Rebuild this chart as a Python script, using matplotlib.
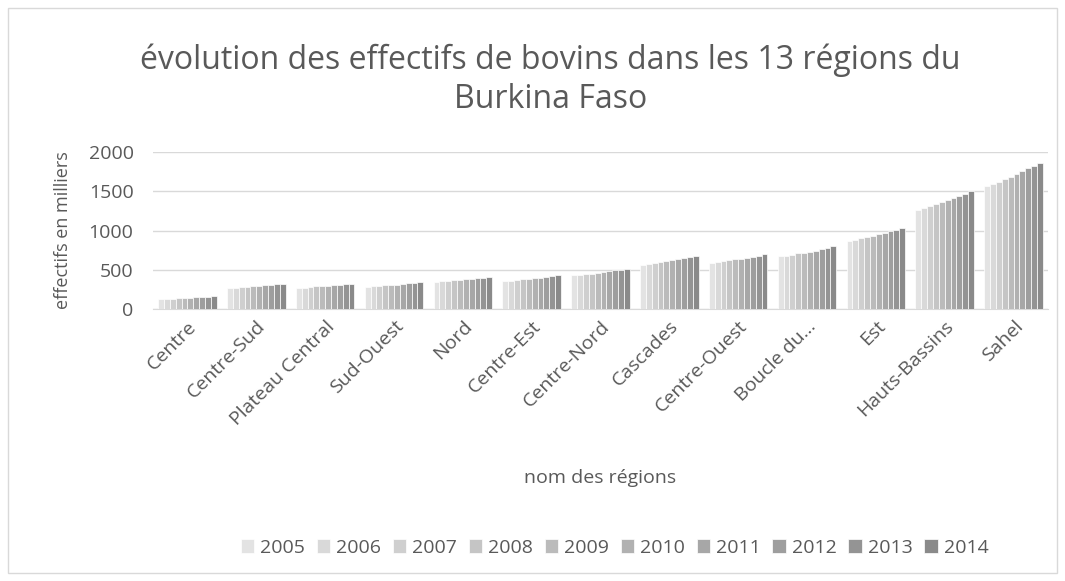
import numpy as np
import matplotlib.pyplot as plt
from matplotlib.patches import Rectangle

plt.rcParams['font.family'] = ['Open Sans', 'DejaVu Sans']

regions = ['Centre', 'Centre-Sud', 'Plateau Central', 'Sud-Ouest', 'Nord',
           'Centre-Est', 'Centre-Nord', 'Cascades', 'Centre-Ouest',
           'Boucle du...', 'Est', 'Hauts-Bassins', 'Sahel']
years = ['2005', '2006', '2007', '2008', '2009', '2010', '2011', '2012', '2013', '2014']

# effectifs (milliers) par region, 2005 -> 2014
centre = [125, 130, 132, 135, 140, 143, 148, 152, 155, 160]
centre_sud = [268, 272, 278, 285, 292, 295, 300, 308, 315, 318]
plateau_central = [268, 270, 280, 287, 292, 296, 303, 310, 315, 320]
sud_ouest = [285, 288, 295, 302, 308, 312, 318, 328, 335, 345]
nord = [346, 352, 358, 364, 372, 376, 381, 390, 398, 410]
centre_est = [355, 362, 370, 376, 382, 390, 398, 405, 415, 432]
centre_nord = [427, 435, 442, 450, 460, 470, 482, 492, 500, 513]
cascades = [564, 578, 592, 602, 612, 622, 632, 645, 662, 675]
centre_ouest = [587, 598, 610, 622, 632, 642, 655, 668, 680, 702]
boucle_mouhoun = [672, 680, 692, 708, 718, 730, 745, 760, 775, 800]
est = [860, 880, 900, 915, 930, 950, 970, 990, 1005, 1030]
hauts_bassins = [1260, 1290, 1315, 1335, 1360, 1385, 1410, 1440, 1470, 1506]
sahel = [1562, 1590, 1615, 1650, 1680, 1720, 1755, 1790, 1825, 1864]

data = np.array([centre, centre_sud, plateau_central, sud_ouest, nord, centre_est,
                 centre_nord, cascades, centre_ouest, boucle_mouhoun, est,
                 hauts_bassins, sahel])

txt = '#595959'
grays = np.linspace(0.89, 0.54, len(years))

fig = plt.figure(figsize=(10.65, 5.81), dpi=100)
fig.patches.append(Rectangle((8 / 1065, 8 / 581), 1 - 16 / 1065, 1 - 16 / 581,
                             transform=fig.transFigure, fill=False,
                             edgecolor='#d9d9d9', lw=1))
ax = fig.add_axes([153 / 1065, 1 - 309 / 581, (1048 - 153) / 1065, (309 - 152) / 581])

x = np.arange(len(regions))
n = len(years)
group = 0.85
w = group / n
for j in range(n):
    g = grays[j]
    ax.bar(x - group / 2 + w * (j + 0.5), data[:, j], width=w,
           color=(g, g, g), edgecolor='white', linewidth=0.5, label=years[j], zorder=3)

ax.set_xlim(-0.5, len(regions) - 0.5)
ax.set_ylim(0, 2000)
ax.set_yticks([0, 500, 1000, 1500, 2000])
ax.grid(axis='y', color='#d9d9d9', lw=1, zorder=0)
for s in ['top', 'right', 'left']:
    ax.spines[s].set_visible(False)
ax.spines['bottom'].set_color('#d9d9d9')
ax.tick_params(axis='both', length=0, colors=txt, labelsize=14)
ax.tick_params(axis='y', pad=14)
ax.tick_params(axis='x', pad=6)
ax.set_xticks(x)
ax.set_xticklabels(regions, rotation=45, ha='right', rotation_mode='anchor')

ax.set_ylabel('effectifs en milliers', color=txt, fontsize=13, labelpad=12)
fig.text(0.563, 1 - 478 / 581, 'nom des régions', color=txt, fontsize=14,
         ha='center', va='center')
fig.text(0.517, 1 - 80 / 581, 'évolution des effectifs de bovins dans les 13 régions du\nBurkina Faso',
         color=txt, fontsize=23, ha='center', va='center', linespacing=1.25)

leg = fig.legend(loc='center', bbox_to_anchor=(0.577, 1 - 548 / 581), ncol=n,
                 frameon=False, fontsize=14, handlelength=0.7, handleheight=0.7,
                 handletextpad=0.3, columnspacing=0.6)
for t in leg.get_texts():
    t.set_color(txt)

fig.savefig('out.png', dpi=100)
